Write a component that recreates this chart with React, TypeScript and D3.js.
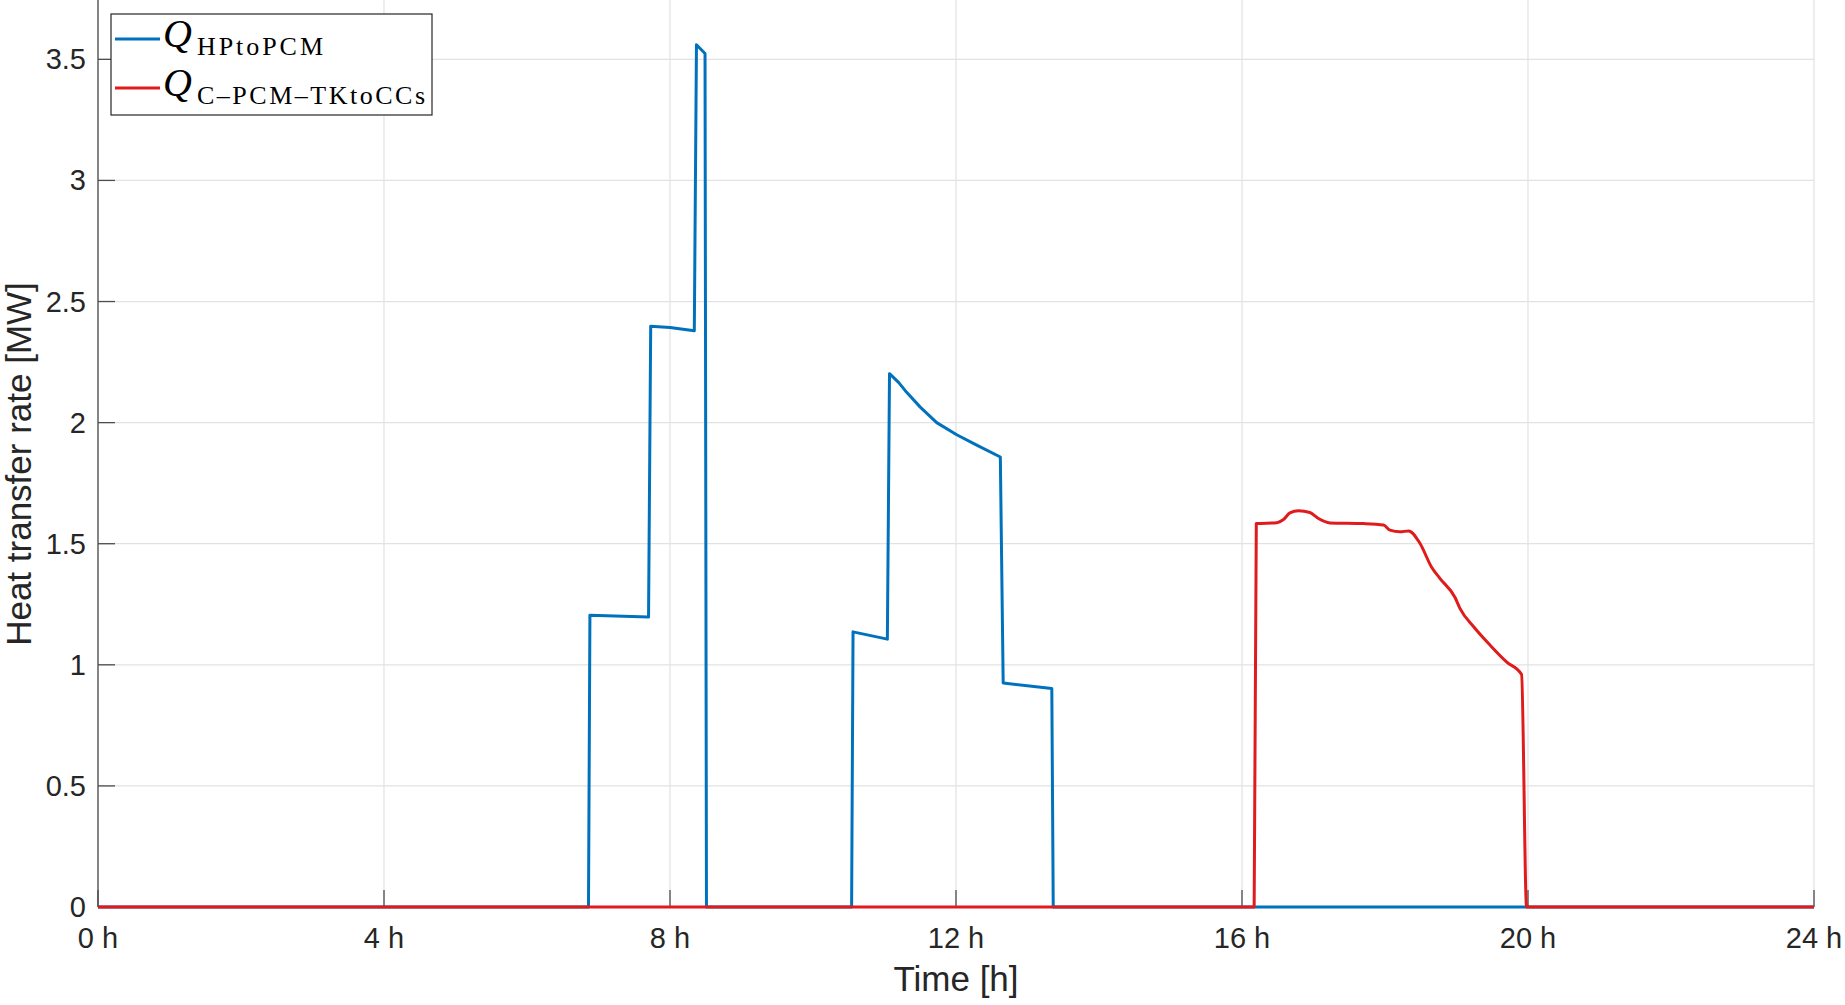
import React, { useEffect, useRef } from "react";
import * as d3 from "d3";

// Q_HPtoPCM [MW] vs time [h]
const hpTime = [0, 6.86, 6.88, 7.7, 7.73, 8.0, 8.34, 8.37, 8.49, 8.51, 10.54, 10.56, 11.04, 11.07, 11.2, 11.31, 11.5, 11.73, 12.01, 12.29, 12.62, 12.66, 13.34, 13.36, 24];
const hpValue = [0, 0, 1.205, 1.197, 2.398, 2.393, 2.379, 3.56, 3.524, 0, 0, 1.136, 1.106, 2.202, 2.165, 2.125, 2.064, 2.0, 1.95, 1.907, 1.858, 0.925, 0.902, 0, 0];

// Q_C-PCM-TKtoCCs [MW] vs time [h]
const ccTime = [0, 16.17, 16.2, 16.49, 16.58, 16.67, 16.79, 16.95, 17.07, 17.23, 17.7, 17.98, 18.07, 18.21, 18.33, 18.49, 18.65, 18.77, 18.98, 19.05, 19.24, 19.47, 19.7, 19.91, 19.98, 24];
const ccValue = [0, 0, 1.583, 1.587, 1.6, 1.627, 1.636, 1.629, 1.604, 1.586, 1.583, 1.577, 1.556, 1.549, 1.553, 1.501, 1.404, 1.356, 1.278, 1.232, 1.157, 1.081, 1.012, 0.96, 0, 0];

const xTicks = [0, 4, 8, 12, 16, 20, 24];
const yTicks = [0, 0.5, 1, 1.5, 2, 2.5, 3, 3.5];

const W = 1845;
const H = 1005;
const BLUE = "#0072bd";
const RED = "#e01b1b";

const App: React.FC = () => {
  const svgRef = useRef<SVGSVGElement>(null);

  useEffect(() => {
    if (!svgRef.current) return;
    const root = d3.select(svgRef.current);
    root.selectAll("*").remove();

    const left = 98;
    const right = 1814;
    const bottom = 907;

    const x = d3.scaleLinear().domain([0, 24]).range([left, right]);
    const y = d3.scaleLinear().domain([0, 3.745]).range([bottom, 0]);

    const svg = root.attr("width", W).attr("height", H);

    svg.append("rect").attr("width", W).attr("height", H).style("fill", "#ffffff");

    // grid
    svg
      .selectAll(".gx")
      .data(xTicks)
      .enter()
      .append("line")
      .attr("x1", (d) => x(d))
      .attr("x2", (d) => x(d))
      .attr("y1", y(3.745))
      .attr("y2", bottom)
      .style("stroke", "#e2e2e2")
      .style("stroke-width", 1.2);

    svg
      .selectAll(".gy")
      .data(yTicks)
      .enter()
      .append("line")
      .attr("x1", left)
      .attr("x2", right)
      .attr("y1", (d) => y(d))
      .attr("y2", (d) => y(d))
      .style("stroke", "#e2e2e2")
      .style("stroke-width", 1.2);

    // axes
    const axisColor = "#4d4d4d";
    const textColor = "#262626";
    const font = "'Liberation Sans', Arial, Helvetica, sans-serif";

    svg.append("line").attr("x1", left).attr("x2", right).attr("y1", bottom).attr("y2", bottom)
      .style("stroke", axisColor).style("stroke-width", 1.3);
    svg.append("line").attr("x1", left).attr("x2", left).attr("y1", 0).attr("y2", bottom)
      .style("stroke", axisColor).style("stroke-width", 1.3);

    svg
      .selectAll(".tx")
      .data(xTicks)
      .enter()
      .append("line")
      .attr("x1", (d) => x(d))
      .attr("x2", (d) => x(d))
      .attr("y1", bottom)
      .attr("y2", bottom - 17)
      .style("stroke", axisColor)
      .style("stroke-width", 1.3);

    svg
      .selectAll(".ty")
      .data(yTicks)
      .enter()
      .append("line")
      .attr("x1", left)
      .attr("x2", left + 17)
      .attr("y1", (d) => y(d))
      .attr("y2", (d) => y(d))
      .style("stroke", axisColor)
      .style("stroke-width", 1.3);

    svg
      .selectAll(".lx")
      .data(xTicks)
      .enter()
      .append("text")
      .attr("x", (d) => x(d))
      .attr("y", 948)
      .attr("text-anchor", "middle")
      .style("font-family", font)
      .style("font-size", "29px")
      .style("fill", textColor)
      .text((d) => `${d} h`);

    svg
      .selectAll(".ly")
      .data(yTicks)
      .enter()
      .append("text")
      .attr("x", left - 12)
      .attr("y", (d) => y(d) + 10)
      .attr("text-anchor", "end")
      .style("font-family", font)
      .style("font-size", "29px")
      .style("fill", textColor)
      .text((d) => d3.format("~g")(d));

    svg
      .append("text")
      .attr("x", (left + right) / 2)
      .attr("y", 991)
      .attr("text-anchor", "middle")
      .style("font-family", font)
      .style("font-size", "35px")
      .style("fill", textColor)
      .text("Time [h]");

    svg
      .append("text")
      .attr("transform", `translate(31,464) rotate(-90)`)
      .attr("text-anchor", "middle")
      .style("font-family", font)
      .style("font-size", "35px")
      .style("fill", textColor)
      .text("Heat transfer rate [MW]");

    // series
    const draw = (times: number[], values: number[], color: string, curve: d3.CurveFactory) => {
      const gen = d3
        .line<number>()
        .x((t) => x(t))
        .y((_, i) => y(values[i]))
        .curve(curve);
      svg
        .append("path")
        .datum(times)
        .attr("d", gen)
        .style("fill", "none")
        .style("stroke", color)
        .style("stroke-width", 3)
        .style("stroke-linejoin", "round");
    };

    draw(hpTime, hpValue, BLUE, d3.curveLinear);
    draw(ccTime, ccValue, RED, d3.curveMonotoneX);

    // legend
    const lg = svg.append("g");
    lg.append("rect")
      .attr("x", 111)
      .attr("y", 14)
      .attr("width", 321)
      .attr("height", 101)
      .style("fill", "#ffffff")
      .style("stroke", "#262626")
      .style("stroke-width", 1.2);

    const serif = "'Liberation Serif', 'Times New Roman', serif";
    const entries = [
      { sub: "HPtoPCM", color: BLUE, subWidth: 126 },
      { sub: "C\u2013PCM\u2013TKtoCCs", color: RED, subWidth: 228 },
    ];
    entries.forEach((e, i) => {
      const cy = 39 + i * 49;
      lg.append("line")
        .attr("x1", 115)
        .attr("x2", 160)
        .attr("y1", cy)
        .attr("y2", cy)
        .style("stroke", e.color)
        .style("stroke-width", 3);
      lg.append("text")
        .attr("x", 163)
        .attr("y", cy + 8)
        .style("font-family", serif)
        .style("font-style", "italic")
        .style("font-size", "40px")
        .style("fill", "#000000")
        .text("Q");
      lg.append("text")
        .attr("x", 197)
        .attr("y", cy + 16)
        .attr("textLength", e.subWidth)
        .attr("lengthAdjust", "spacing")
        .style("font-family", serif)
        .style("font-size", "26px")
        .style("fill", "#000000")
        .text(e.sub);
    });
  }, []);

  return (
    <div style={{ position: "absolute", left: 0, top: 0 }}>
      <svg ref={svgRef} style={{ display: "block" }} />
    </div>
  );
};

export default App;
